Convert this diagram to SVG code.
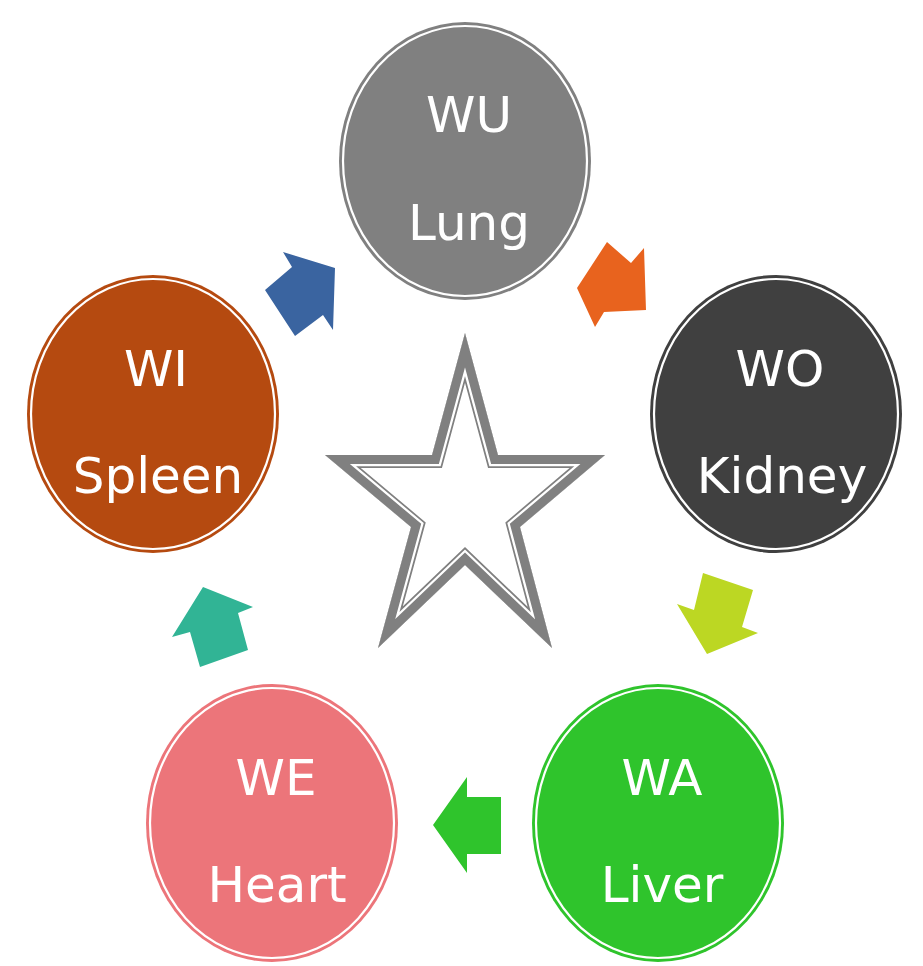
<svg xmlns="http://www.w3.org/2000/svg" width="923" height="966" viewBox="0 0 923 966">
  <style>
    .ring { fill: none; stroke: #ffffff; stroke-width: 2.2; }
    .lbl { font-family: "DejaVu Sans", "Open Sans", sans-serif; font-size: 50px; fill: #ffffff; text-anchor: middle; }
  </style>
  <defs>
    <polygon id="starShape" points="465,333 498,455 605,455 520,527 552,648 465,565 378,648 411,527 325,455 432,455"/>
    <clipPath id="starClip"><use href="#starShape"/></clipPath>
  </defs>
  <rect width="923" height="966" fill="#ffffff"/>

  <g id="star">
    <use href="#starShape" fill="#ffffff"/>
    <g clip-path="url(#starClip)" fill="none" stroke-linejoin="miter" stroke-miterlimit="10">
      <use href="#starShape" stroke="#808080" stroke-width="26"/>
      <use href="#starShape" stroke="#ffffff" stroke-width="22.5"/>
      <use href="#starShape" stroke="#808080" stroke-width="18"/>
    </g>
  </g>

  <g id="connectors">
    <polygon id="arrow-wi-wu" fill="#3A64A0" points="283,252 335,268 333,330 323,315 295,336 265,290 292,267"/>
    <polygon id="arrow-wu-wo" fill="#E8631E" points="607,242 631,263 644,248 646,310 604,312 595,327 577,288"/>
    <polygon id="arrow-wo-wa" fill="#BCD723" points="703,573 753,590 742,627 758,633 707,654 677,604 694,610"/>
    <polygon id="arrow-wa-we" fill="#2FC42C" points="467,777 467,797 501,797 501,854 467,854 467,873 433,825"/>
    <polygon id="arrow-we-wi" fill="#31B495" points="203,587 253,607 238,613 248,650 200,667 190,632 172,637"/>
  </g>

  <g id="node-wu">
    <ellipse cx="465" cy="161" rx="126" ry="139" fill="#808080"/>
    <ellipse class="ring" cx="465" cy="161" rx="122" ry="135"/>
    <text class="lbl" x="469" y="132">WU</text>
    <text class="lbl" x="469" y="240">Lung</text>
  </g>

  <g id="node-wo">
    <ellipse cx="776" cy="414" rx="126" ry="139" fill="#404040"/>
    <ellipse class="ring" cx="776" cy="414" rx="122" ry="135"/>
    <text class="lbl" x="780" y="386">WO</text>
    <text class="lbl" x="782" y="493">Kidney</text>
  </g>

  <g id="node-wa">
    <ellipse cx="658" cy="823" rx="126" ry="139" fill="#2FC42C"/>
    <ellipse class="ring" cx="658" cy="823" rx="122" ry="135"/>
    <text class="lbl" x="662" y="795">WA</text>
    <text class="lbl" x="662" y="902">Liver</text>
  </g>

  <g id="node-we">
    <ellipse cx="272" cy="823" rx="126" ry="139" fill="#EC757A"/>
    <ellipse class="ring" cx="272" cy="823" rx="122" ry="135"/>
    <text class="lbl" x="276" y="795">WE</text>
    <text class="lbl" x="277" y="902">Heart</text>
  </g>

  <g id="node-wi">
    <ellipse cx="153" cy="414" rx="126" ry="139" fill="#B54A10"/>
    <ellipse class="ring" cx="153" cy="414" rx="122" ry="135"/>
    <text class="lbl" x="156" y="386">WI</text>
    <text class="lbl" x="158" y="493">Spleen</text>
  </g>
</svg>
